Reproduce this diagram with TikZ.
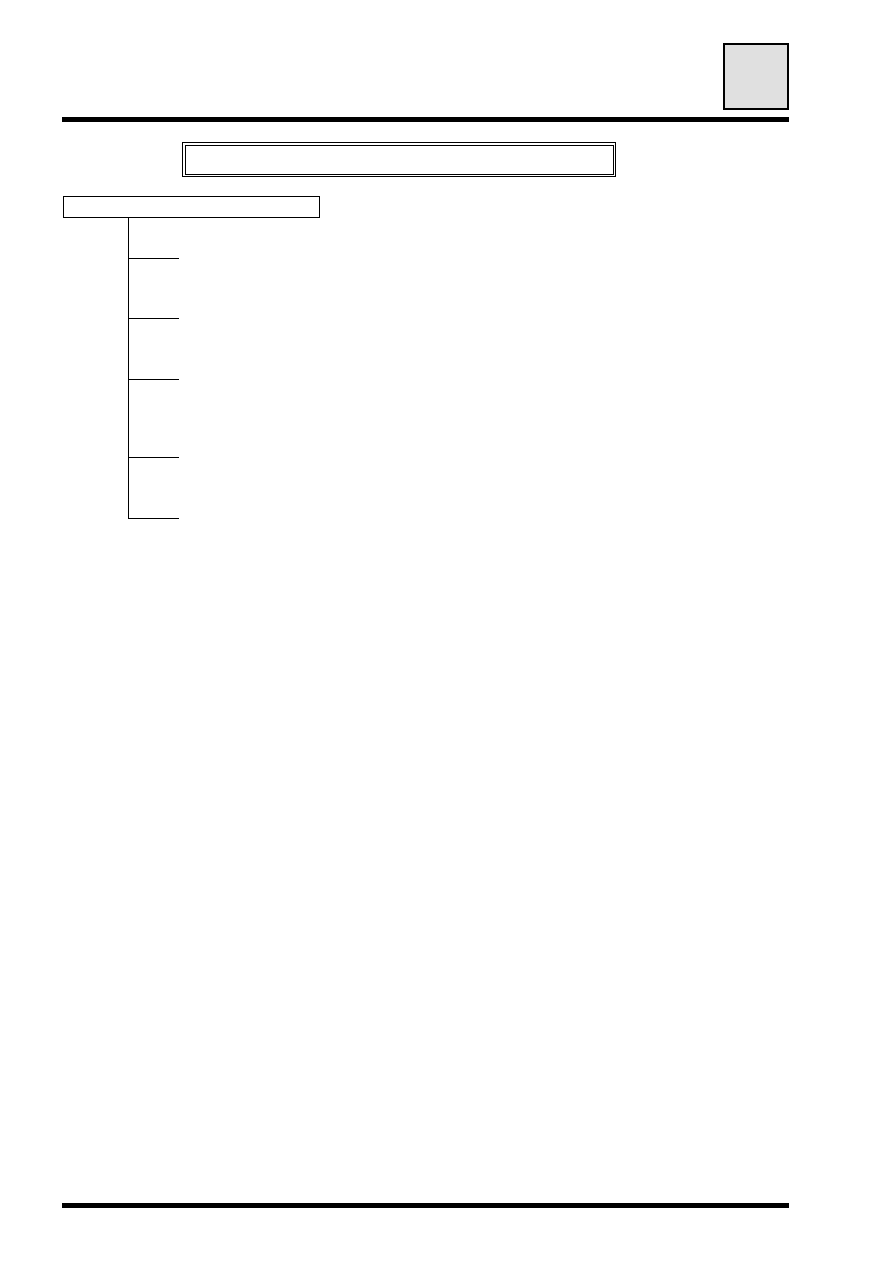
\documentclass[tikz,border=0pt]{standalone}
\usepackage{tikz}
\usepackage{tkz-euclide}
\usepackage{xcolor}
\usetikzlibrary{positioning}
\definecolor{cinzaaba}{HTML}{E0E0E0}

\begin{document}
\begin{tikzpicture}[x=1pt,y=-1pt] %cada unidade vale um pixel da pagina

\useasboundingbox (0,0) rectangle (893,1263);

%O comando \tkzDefPoints define os pontos da pagina (x/y/NomedoPonto): regras do topo e do rodape, e o tronco da arvore
\tkzDefPoints{
62/119.5/A,
789/119.5/B,
62/1205.5/C,
789/1205.5/D,
128/518/E}

%Pontos das ramificacoes: inicio no tronco (F) e fim a direita (G)
\tkzDefPoints{
128/258/F1, 179/258/G1,
128/318/F2, 179/318/G2,
128/379/F3, 179/379/G3,
128/457/F4, 179/457/G4,
128/518/F5, 179/518/G5}

%Aba cinza no canto superior direito, com borda grossa preta.
%---------------------------------------------------
\node[draw, line width=2pt, fill=cinzaaba, minimum width=64, minimum height=65, inner sep=0] (aba) at (756,76.5) {};
%---------------------------------------------------

%Regra grossa do topo, de A ate B.
%---------------------------------------------------
\draw[line width=5pt] (A) -- (B);
%---------------------------------------------------

%Caixa do titulo com linha dupla.
%---------------------------------------------------
\node[draw, double, double distance=1.5pt, line width=1pt, minimum width=430.5, minimum height=31.5, inner sep=0] (titulo) at (399,159.5) {};
%---------------------------------------------------

%Caixa da raiz da arvore, a esquerda.
%---------------------------------------------------
\node[draw, line width=1pt, minimum width=256, minimum height=21, inner sep=0] (raiz) at (191.5,207) {};
\draw[line width=1pt] (raiz.north west) -- (raiz.south west);
%---------------------------------------------------

%Tronco da arvore, da caixa raiz ate o ponto E.
%---------------------------------------------------
\draw[line width=1pt] (raiz.south -| E) -- (E);
%---------------------------------------------------

%Ramificacoes do tronco, de F ate G.
%---------------------------------------------------
\draw[line width=1pt] (F1) -- (G1);
\draw[line width=1pt] (F2) -- (G2);
\draw[line width=1pt] (F3) -- (G3);
\draw[line width=1pt] (F4) -- (G4);
\draw[line width=1pt] (F5) -- (G5);
%---------------------------------------------------

%Regra grossa do rodape, de C ate D.
%---------------------------------------------------
\draw[line width=5pt] (C) -- (D);
%---------------------------------------------------

\end{tikzpicture}
\end{document}
